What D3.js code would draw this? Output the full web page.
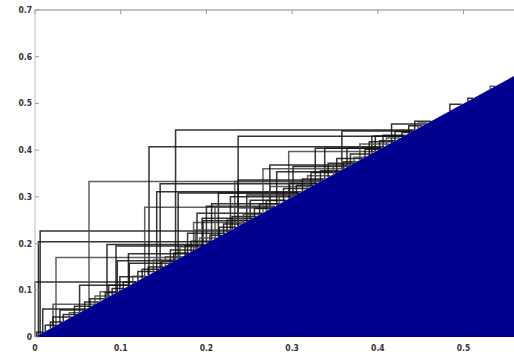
<!DOCTYPE html>
<html><head><meta charset="utf-8">
<script src="https://cdn.jsdelivr.net/npm/d3@7"></script>
<style>html,body{margin:0;padding:0;background:#fff;}svg{display:block;}</style>
</head><body>
<svg id="c" width="514" height="354"></svg>
<script>
// birth / death pairs (x = birth, y = death)
const births = [0.000,0.006,0.004,0.063,0.133,0.164,0.237,0.128,0.146,0.142,0.167,0.0245,0.084,0.0945,0.009,0.021,0.029,0.052,0.096,0.076,0.109,0.002,0.021,
  0.185,0.200,0.195,0.206,0.169,0.178,0.110,0.120,0.138,0.099,0.086,0.358,0.296,0.327,0.338,0.364,0.266,0.274,0.282,0.301,0.233,0.214,0.247,0.251,0.274,
  0.443,0.484,0.505,0.531,0.393,0.397,0.406,0.379,0.416,0.189,0.196,0.210,0.228,0.237,0.297,0.187,0.158,0.204,0.224,0.237,
  0.012,0.018,0.033,0.040,0.046,0.058,0.064,0.070,0.082,0.090,0.103,0.114,0.125,0.132,0.148,0.152,0.162,0.175,0.182,0.192,0.215,0.220,0.230,0.243,0.256,
  0.262,0.270,0.285,0.290,0.305,0.312,0.318,0.322,0.333,0.342,0.348,0.352,0.360,0.368,0.372,0.385,0.390,0.402,0.410,0.420,0.428,0.436,0.447];
const deaths = [0.118,0.227,0.204,0.333,0.407,0.443,0.430,0.278,0.328,0.311,0.308,0.170,0.198,0.195,0.060,0.070,0.058,0.111,0.163,0.097,0.178,0.010,0.043,
  0.245,0.280,0.254,0.285,0.193,0.222,0.158,0.140,0.165,0.129,0.111,0.441,0.397,0.404,0.404,0.404,0.360,0.368,0.354,0.365,0.333,0.308,0.304,0.293,0.322,
  0.462,0.498,0.511,0.537,0.430,0.430,0.432,0.413,0.456,0.265,0.249,0.279,0.300,0.336,0.329,0.229,0.186,0.218,0.250,0.276,
  0.025,0.032,0.048,0.052,0.066,0.075,0.082,0.088,0.095,0.104,0.118,0.130,0.145,0.150,0.162,0.172,0.180,0.196,0.205,0.212,0.235,0.242,0.258,0.262,0.275,
  0.285,0.292,0.305,0.318,0.325,0.338,0.345,0.352,0.356,0.372,0.366,0.382,0.375,0.392,0.385,0.402,0.418,0.420,0.426,0.440,0.438,0.452,0.458];
const xTicks = [0,0.1,0.2,0.3,0.4,0.5];
const xTickLabels = ["0","0.1","0.2","0.3","0.4","0.5"];
const yTicks = [0,0.1,0.2,0.3,0.4,0.5,0.6,0.7];
const yTickLabels = ["0","0.1","0.2","0.3","0.4","0.5","0.6","0.7"];
const xDomain = [0,0.56];
const yDomain = [0,0.7];

const svg = d3.select("#c");
const x = d3.scaleLinear().domain(xDomain).range([35,515]);
const y = d3.scaleLinear().domain(yDomain).range([337,10]);

const pairs = births.map((b,i)=>({b, d: deaths[i]}));

// elbows
const g = svg.append("g");
g.selectAll("path.el").data(pairs).enter().append("path")
  .attr("d", p => `M${x(p.b)},${y(p.b)}V${y(p.d)}H${x(p.d)}`)
  .attr("fill","none")
  .attr("stroke", (p,i)=> i%4===3 ? "#444" : "#111")
  .attr("stroke-width",1.5)
  .attr("stroke-opacity",0.85);

// filled region under the diagonal
const area = [[xDomain[0],0],[xDomain[1],xDomain[1]],[xDomain[1],0]];
svg.append("path")
  .attr("d", d3.line().x(p=>x(p[0])).y(p=>y(p[1]))(area) + "Z")
  .attr("fill","#00008e");

// axes lines
svg.append("line").attr("x1",x(0)).attr("x2",x(0)).attr("y1",y(0.7)).attr("y2",y(0))
  .attr("stroke","#bbb").attr("stroke-width",1);
svg.append("line").attr("x1",x(0)).attr("x2",514).attr("y1",y(0.7)).attr("y2",y(0.7))
  .attr("stroke","#888").attr("stroke-width",1);

// y ticks and labels
const font = "'Liberation Sans Narrow','DejaVu Sans Condensed',sans-serif";
yTicks.forEach((t,i)=>{
  svg.append("line").attr("x1",x(0)).attr("x2",x(0)+4).attr("y1",y(t)).attr("y2",y(t))
    .attr("stroke","#999");
  svg.append("text").attr("x",x(0)-3).attr("y",y(t)).attr("dy","0.35em")
    .attr("text-anchor","end").attr("font-family",font).attr("font-weight","bold")
    .attr("font-size",8.5).attr("fill","#333").text(yTickLabels[i]);
});
// x ticks (top axis, inward) and labels
xTicks.forEach((t,i)=>{
  svg.append("line").attr("x1",x(t)).attr("x2",x(t)).attr("y1",y(0.7)).attr("y2",y(0.7)+4)
    .attr("stroke","#999");
  svg.append("text").attr("x",x(t)).attr("y",351)
    .attr("text-anchor","middle").attr("font-family",font).attr("font-weight","bold")
    .attr("font-size",8.5).attr("fill","#333").text(xTickLabels[i]);
});
</script>
</body></html>
